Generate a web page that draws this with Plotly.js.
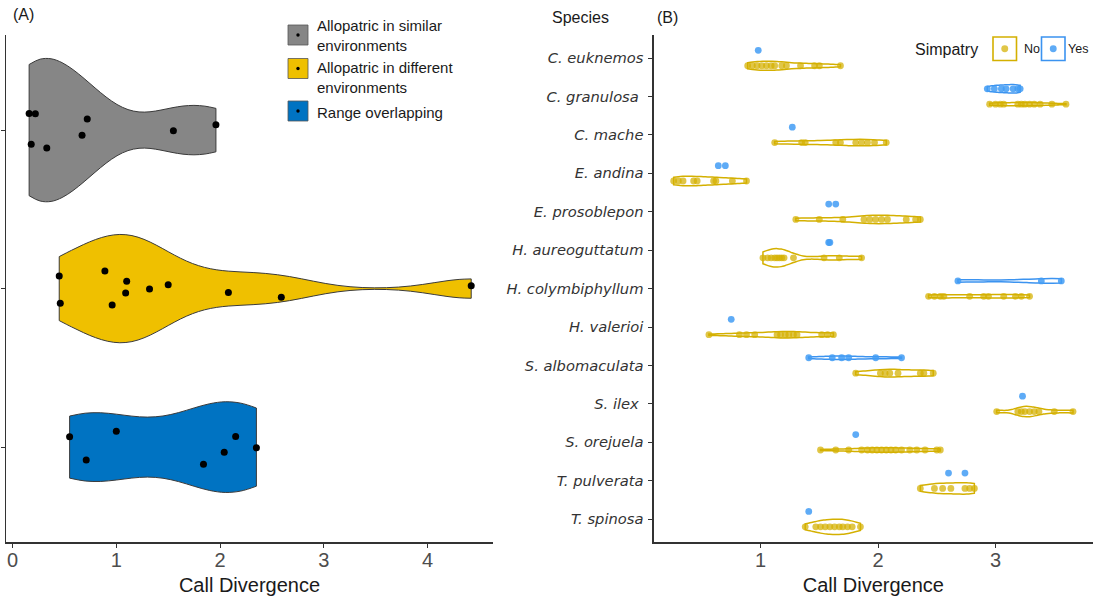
<!DOCTYPE html>
<html><head><meta charset="utf-8">
<script src="https://cdn.plot.ly/plotly-3.0.1.min.js"></script>
<style>html,body{margin:0;padding:0;background:#fff}#chart{width:1093px;height:602px}</style>
</head><body><div id="chart"></div>
<script>
// ---------------- DATA ----------------
// Panel A: call divergence by geographic / environmental context
const groupsA = ["Allopatric in similar environments", "Allopatric in different environments", "Range overlapping"];
const similarEnvironments = [0.16, 0.18, 0.22, 0.33, 0.67, 0.72, 1.55, 1.96];
const differentEnvironments = [0.45, 0.46, 0.89, 0.96, 1.09, 1.10, 1.32, 1.50, 2.08, 2.59, 4.42];
const rangeOverlapping = [0.55, 0.71, 1.00, 1.84, 2.04, 2.15, 2.35];
const xTicksA = [0, 1, 2, 3, 4];

// Panel B: call divergence per species, split by simpatry
const species = ["C. euknemos", "C. granulosa\u00a0", "C. mache", "E. andina", "E. prosoblepon", "H. aureoguttatum",
  "H. colymbiphyllum", "H. valerioi", "S. albomaculata", "S. ilex\u00a0", "S. orejuela", "T. pulverata", "T. spinosa"];
const simpatryLevels = ["No", "Yes"];
const simpatryNo = [
  [0.89, 0.93, 0.97, 1.01, 1.05, 1.09, 1.12, 1.18, 1.22, 1.34, 1.46, 1.50, 1.68],
  [2.95, 3.00, 3.04, 3.07, 3.19, 3.22, 3.25, 3.29, 3.33, 3.38, 3.48, 3.60],
  [1.12, 1.35, 1.38, 1.64, 1.68, 1.81, 1.86, 1.91, 1.97, 2.07],
  [0.26, 0.30, 0.34, 0.43, 0.46, 0.60, 0.62, 0.76, 0.88],
  [1.30, 1.50, 1.70, 1.88, 1.93, 1.98, 2.03, 2.08, 2.24, 2.32, 2.36],
  [1.02, 1.06, 1.09, 1.12, 1.14, 1.16, 1.18, 1.20, 1.28, 1.54, 1.67, 1.86],
  [2.43, 2.48, 2.53, 2.56, 2.78, 2.90, 2.94, 3.07, 3.17, 3.22, 3.29],
  [0.56, 0.82, 0.88, 0.95, 1.14, 1.17, 1.21, 1.24, 1.28, 1.31, 1.52, 1.57, 1.62],
  [1.81, 2.02, 2.06, 2.10, 2.17, 2.36, 2.39, 2.47],
  [3.01, 3.19, 3.22, 3.25, 3.29, 3.33, 3.37, 3.50, 3.66],
  [1.51, 1.64, 1.75, 1.86, 1.91, 1.95, 1.99, 2.03, 2.07, 2.11, 2.15, 2.20, 2.27, 2.33, 2.40, 2.50, 2.53],
  [2.36, 2.48, 2.55, 2.62, 2.74, 2.78, 2.82],
  [1.38, 1.47, 1.51, 1.55, 1.59, 1.63, 1.67, 1.70, 1.74, 1.78, 1.85]
];
const simpatryYes = [
  [0.98],
  [2.93, 2.99, 3.05, 3.09, 3.15, 3.19, 3.21],
  [1.27],
  [0.64, 0.70],
  [1.58, 1.64],
  [1.58, 1.59],
  [2.68, 3.39, 3.56],
  [0.75],
  [1.41, 1.61, 1.69, 1.75, 1.98, 2.20],
  [3.23],
  [1.81],
  [2.60, 2.74],
  [1.41]
];
const xTicksB = [1, 2, 3];

// ---------------- STYLE ----------------
const W = 1093, H = 602;
const fillA = ["#868686", "#EFC000", "#0073C2"];
const colB = { No: "#D4B000", Yes: "#3B93F0" };
const ptB = { No: "rgba(212,176,0,0.72)", Yes: "rgba(66,156,245,0.85)" };
// drawn violin widths (in category units) for panel B, per species
const violinWidthB = {
  No:  [0.24, 0.09, 0.17, 0.25, 0.22, 0.48, 0.09, 0.17, 0.20, 0.27, 0.12, 0.30, 0.40],
  Yes: [0, 0.22, 0, 0, 0, 0, 0.12, 0, 0.09, 0, 0, 0, 0]
};
const sans = "Liberation Sans, Arial, sans-serif";
const px = v => v / W;
const py = v => 1 - v / H;

// ---------------- KDE helpers (R's bw.nrd0) ----------------
function quantile(s, p) { const h = (s.length - 1) * p, lo = Math.floor(h), hi = Math.ceil(h); return s[lo] + (h - lo) * (s[hi] - s[lo]); }
function nrd0(v) {
  const n = v.length, s = [...v].sort((a, b) => a - b);
  const m = v.reduce((a, b) => a + b, 0) / n;
  const sd = Math.sqrt(v.reduce((a, b) => a + (b - m) * (b - m), 0) / (n - 1));
  let lo = Math.min(sd, (quantile(s, 0.75) - quantile(s, 0.25)) / 1.34);
  if (!lo) lo = sd || Math.abs(s[0]) || 1;
  return 0.9 * lo * Math.pow(n, -0.2);
}
function peak(v, bw) {
  const mn = Math.min(...v), mx = Math.max(...v); let best = 0;
  for (let i = 0; i <= 300; i++) {
    const x = mn + (mx - mn) * i / 300; let d = 0;
    v.forEach(t => { const z = (x - t) / bw; d += Math.exp(-0.5 * z * z); });
    d /= v.length * bw * Math.sqrt(2 * Math.PI); if (d > best) best = d;
  }
  return best;
}

const traces = [];
// ---------------- Panel A ----------------
const seriesA = [similarEnvironments, differentEnvironments, rangeOverlapping];
const bwA = seriesA.map(nrd0), pkA = seriesA.map((v, i) => peak(v, bwA[i]));
const maxPkA = Math.max(...pkA);
seriesA.forEach((v, i) => {
  traces.push({
    type: "violin", orientation: "h", x: v, y0: 3 - i, name: groupsA[i],
    xaxis: "x", yaxis: "y", showlegend: false, hoverinfo: "x",
    width: 0.9 * pkA[i] / maxPkA, scalemode: "width", spanmode: "hard", bandwidth: bwA[i],
    fillcolor: fillA[i], opacity: 1, line: { color: "#3a3a3a", width: 1 },
    points: "all", pointpos: 0, jitter: 0.45,
    marker: { color: "#000", size: 7 },
    box: { visible: false }, meanline: { visible: false }
  });
});

// ---------------- Panel B ----------------
const seriesB = { No: simpatryNo, Yes: simpatryYes };
const offB = { No: 0.2, Yes: -0.2 };
simpatryLevels.forEach(lv => seriesB[lv].forEach((v, i) => {
  const pos = i + offB[lv];
  const w = violinWidthB[lv][i];
  if (v.length >= 3 && w > 0) {
    traces.push({
      type: "violin", orientation: "h", x: v, y0: pos, name: lv,
      xaxis: "x2", yaxis: "y2", showlegend: false, hoverinfo: "x",
      width: w, scalemode: "width", spanmode: "hard", bandwidth: nrd0(v),
      fillcolor: "rgba(255,255,255,0)", line: { color: colB[lv], width: 1.5 },
      points: "all", pointpos: 0, jitter: 0,
      marker: { color: ptB[lv], size: 6.8 },
      box: { visible: false }, meanline: { visible: false }
    });
  } else {
    traces.push({
      type: "scatter", mode: "markers", x: v, y: v.map(() => pos), name: lv,
      xaxis: "x2", yaxis: "y2", showlegend: false, hoverinfo: "x",
      marker: { color: ptB[lv], size: 6.8 }
    });
  }
}));

// ---------------- Layout ----------------
const yDom = [1 - 542.2 / H, 1 - 35 / H];
const axLine = { showline: true, linecolor: "#333", linewidth: 1.3, ticks: "outside", ticklen: 4, tickcolor: "#333",
  tickwidth: 1, showgrid: false, zeroline: false, fixedrange: true };

const shapes = [], annotations = [];
// Legend A (manual, ggplot-style keys)
const keyA = [{ c: 35, t: 35.4 }, { c: 68.5, t: 77.8 }, { c: 111, t: 112 }];
groupsA.forEach((g, i) => {
  const k = keyA[i];
  shapes.push({ type: "rect", xref: "paper", yref: "paper", x0: px(288), x1: px(308), y0: py(k.c + 10), y1: py(k.c - 10),
    fillcolor: fillA[i], line: { color: "#555", width: 0.8 } });
  shapes.push({ type: "circle", xref: "paper", yref: "paper", x0: px(296.3), x1: px(299.7), y0: py(k.c + 1.7), y1: py(k.c - 1.7),
    fillcolor: "#000", line: { width: 0 } });
  const label = i < 2 ? g.replace(" environments", "<br>environments") : g;
  annotations.push({ xref: "paper", yref: "paper", x: px(315), y: py(k.t), xanchor: "left", yanchor: "middle",
    text: label, showarrow: false, align: "left", font: { family: sans, size: 15, color: "#1a1a1a" } });
});
// Legend B
annotations.push({ xref: "paper", yref: "paper", x: px(913), y: py(49), xanchor: "left", yanchor: "middle",
  text: "Simpatry", showarrow: false, font: { family: sans, size: 16, color: "#1a1a1a" } });
const keyB = { No: { box: 993, txt: 1022 }, Yes: { box: 1041.5, txt: 1066 } };
simpatryLevels.forEach(lv => {
  const x0 = keyB[lv].box;
  shapes.push({ type: "rect", xref: "paper", yref: "paper", x0: px(x0), x1: px(x0 + 23.5), y0: py(60.5), y1: py(37),
    fillcolor: "#fff", line: { color: colB[lv], width: 1.6 } });
  shapes.push({ type: "circle", xref: "paper", yref: "paper", x0: px(x0 + 8.3), x1: px(x0 + 15.2), y0: py(52.2), y1: py(45.3),
    fillcolor: ptB[lv], line: { width: 0 } });
  annotations.push({ xref: "paper", yref: "paper", x: px(keyB[lv].txt), y: py(49), xanchor: "left", yanchor: "middle",
    text: lv, showarrow: false, font: { family: sans, size: 12.5, color: "#1a1a1a" } });
});
// Panel tags and species header
annotations.push({ xref: "paper", yref: "paper", x: px(11), y: py(15), xanchor: "left", yanchor: "middle",
  text: "(A)", showarrow: false, font: { family: sans, size: 16, color: "#1a1a1a" } });
annotations.push({ xref: "paper", yref: "paper", x: px(655), y: py(18), xanchor: "left", yanchor: "middle",
  text: "(B)", showarrow: false, font: { family: sans, size: 16, color: "#1a1a1a" } });
annotations.push({ xref: "paper", yref: "paper", x: px(580), y: py(18), xanchor: "center", yanchor: "middle",
  text: "Species", showarrow: false, font: { family: sans, size: 16, color: "#1a1a1a" } });

const layout = {
  width: W, height: H, autosize: false,
  margin: { l: 0, r: 0, t: 0, b: 0, pad: 0 },
  paper_bgcolor: "#fff", plot_bgcolor: "#fff",
  showlegend: false, violinmode: "overlay", violingap: 0, violingroupgap: 0,
  font: { family: sans, color: "#1a1a1a" },
  xaxis: Object.assign({}, axLine, {
    domain: [px(6), px(493)], range: [-0.063, 4.63], anchor: "y",
    tickvals: xTicksA, ticktext: xTicksA.map(String), tickfont: { family: sans, size: 20, color: "#4d4d4d" },
    ticklabelstandoff: -5,
    title: { text: "Call Divergence", font: { family: sans, size: 20, color: "#1a1a1a" }, standoff: 8 }
  }),
  yaxis: Object.assign({}, axLine, {
    domain: yDom, range: [0.4, 3.6], anchor: "x", tickvals: [1, 2, 3], showticklabels: false
  }),
  xaxis2: Object.assign({}, axLine, {
    domain: [px(653.7), 1], range: [0.09, 3.83], anchor: "y2",
    tickvals: xTicksB, ticktext: xTicksB.map(String), tickfont: { family: sans, size: 20, color: "#4d4d4d" },
    ticklabelstandoff: -5,
    title: { text: "Call Divergence", font: { family: sans, size: 20, color: "#1a1a1a" }, standoff: 8 }
  }),
  yaxis2: Object.assign({}, axLine, {
    domain: yDom, range: [12.6, -0.6], anchor: "x2",
    tickvals: species.map((s, i) => i), ticktext: species, ticklabelstandoff: 2,
    tickfont: { family: "DejaVu Sans, Verdana, sans-serif", size: 14.7, color: "#333", style: "italic" }
  }),
  shapes, annotations
};

Plotly.newPlot("chart", traces, layout, { staticPlot: true, displayModeBar: false });
</script>
</body></html>
